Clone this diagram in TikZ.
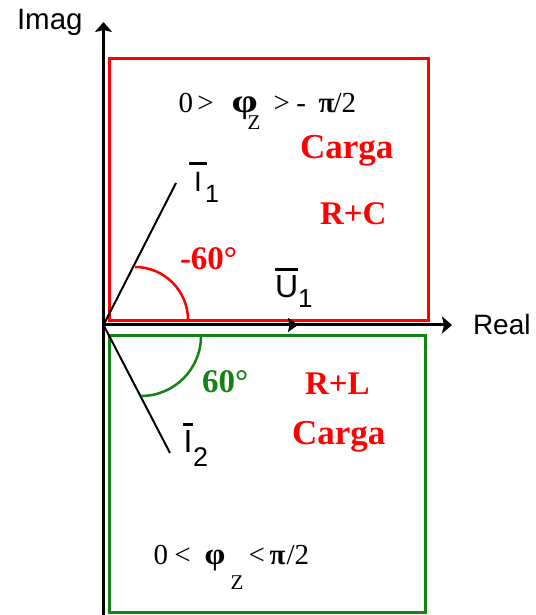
\documentclass[tikz,border=0pt]{standalone}
\usepackage{fontspec}
\setmainfont{Liberation Serif}
\newfontfamily\arialf{Liberation Sans}
\usetikzlibrary{arrows.meta}
\newcommand{\fsz}[1]{\fontsize{#1}{#1}\selectfont}
% overbarred letter: #1 letter, #2 bar width, #3 gap
\newcommand{\ovb}[3]{\leavevmode\vbox{\offinterlineskip\halign{\hfil##\hfil\cr\vrule height 3pt depth 0pt width #2\cr\noalign{\kern #3}#1\cr}}}
% piece placed at a horizontal offset from the start of the text
\newcommand{\pc}[2]{\rlap{\hspace{#1}#2}}
\definecolor{myred}{RGB}{255,0,0}
\definecolor{mygreen}{RGB}{20,130,20}
\begin{document}
\begin{tikzpicture}[x=1pt,y=1pt,
  lbl/.style={inner sep=0pt, outer sep=0pt, anchor=base west},
  sanslbl/.style={lbl, font=\arialf\fsz{28}},
  boldred/.style={lbl, text=myred, font=\bfseries\fsz{33}},
  axis/.style={line width=3pt, -{Stealth[length=10pt,width=17pt,inset=2pt]}},
  phasor/.style={line width=2pt, black},
  anglearc/.style={line width=2.5pt}
]
\useasboundingbox (0,0) rectangle (535,615);
% regions
\draw[myred, line width=3pt] (109.5,294) rectangle (428.5,556.5);
\draw[mygreen, line width=3pt] (109.5,279.5) rectangle (425.5,2);
% coordinates
\coordinate (O) at (103.5,290);
\coordinate (ybot) at (103.5,0);
\coordinate (xstart) at (102,290);
\coordinate (imagtip) at (103.5,593);
\coordinate (realtip) at (452,290);
\coordinate (u1tip) at (298,290);
\coordinate (i1tip) at (176,432);
\coordinate (i2tip) at (170,162);
% axes
\draw[axis] (ybot) -- (imagtip);
\draw[axis] (xstart) -- (realtip);
% phasors
\draw[line width=2pt, -{Stealth[length=10pt,width=14pt,inset=1.5pt]}] (O) -- (u1tip);
\draw[phasor] (O) -- (i1tip);
\draw[phasor] (O) -- (i2tip);
% angle arcs
\draw[anglearc, myred] (135,348) arc[start angle=90, end angle=0, radius=53];
\draw[anglearc, mygreen] (201,279) arc[start angle=0, end angle=-90, radius=60];
% axis labels
\node[sanslbl, font=\arialf\fsz{29.5}] (imag) at (17,585) {Imag};
\node[sanslbl] (real) at (473,280) {Real};
% phasor labels
\node[sanslbl] (i1) at (189,423) {\ovb{I}{18pt}{8pt}\hspace{-2pt}\raisebox{-11pt}{\fsz{25}1}};
\node[sanslbl] (u1) at (275,317) {\fsz{32}\ovb{U}{23pt}{5pt}\raisebox{-10pt}{\fsz{26}1}};
\node[sanslbl] (i2) at (183,162) {\fsz{32}\ovb{I}{10pt}{5pt}\raisebox{-14pt}{\fsz{27}2}};
% angle labels
\node[boldred] (a1) at (180,345) {-60°};
\node[lbl, text=mygreen, font=\bfseries\fsz{33}] (a2) at (202,222) {60°};
% load labels
\node[boldred, font=\bfseries\fsz{35}] (carga1) at (300,456) {Carga};
\node[boldred] (rc) at (320,390) {R+C};
\node[boldred] (rl) at (305,220) {R+L};
\node[boldred, font=\bfseries\fsz{35}] (carga2) at (292,170) {Carga};
% conditions
\node[lbl, font=\fsz{29}] (cond1) at (178,502) {\pc{0pt}{0}\pc{19pt}{>}\pc{53pt}{\bfseries\scalebox{1.45}[1.15]{φ}}\pc{69pt}{\raisebox{-17pt}{\fsz{21}Z}}\pc{95pt}{>}\pc{118pt}{-}\pc{140pt}{\bfseries π}\pc{155pt}{/2}\hspace{177pt}};
\node[lbl, font=\fsz{29}] (cond2) at (153,50) {\pc{0pt}{0}\pc{21pt}{<}\pc{51pt}{\bfseries\scalebox{1.15}[1.05]{φ}}\pc{77pt}{\raisebox{-25pt}{\fsz{21}Z}}\pc{95pt}{<}\pc{116pt}{\bfseries π}\pc{133pt}{/2}\hspace{154pt}};
\end{tikzpicture}
\end{document}
